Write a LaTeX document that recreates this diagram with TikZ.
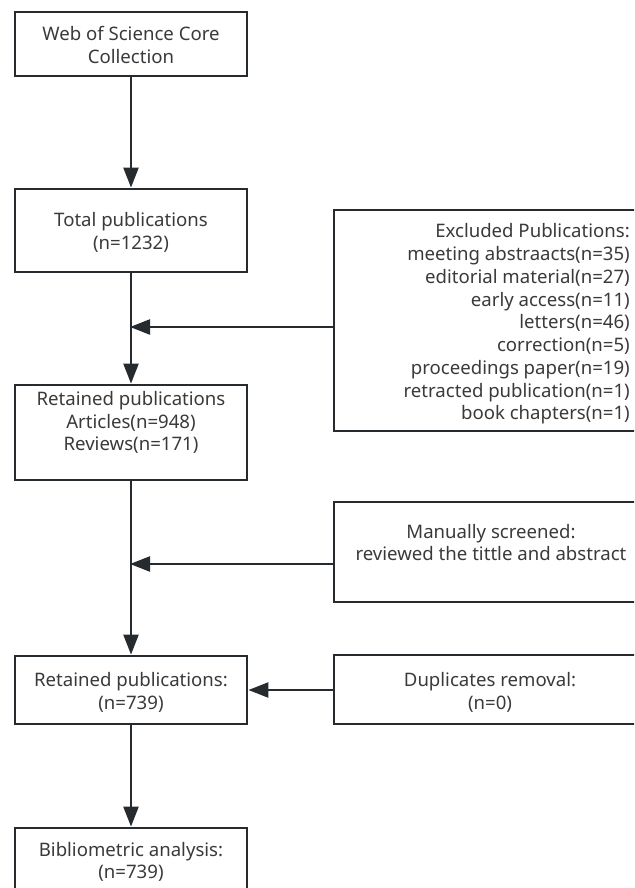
\documentclass[tikz,border=0pt]{standalone}
\usepackage{fontspec}
\setmainfont{Noto Sans}
\usetikzlibrary{arrows.meta}
\definecolor{edge}{HTML}{262B30}
\definecolor{ink}{HTML}{3A3A3A}
\tikzset{
  box/.style={draw=edge, line width=2.8pt, fill=white, inner sep=0pt},
  txt/.style={text=ink, font=\fontsize{18.6}{22.75}\selectfont, inner sep=0pt},
  arr/.style={draw=edge, line width=2.4pt, -{Triangle[length=20pt,width=15pt]}},
  ln/.style={draw=edge, line width=2.4pt}
}
\begin{document}
\begin{tikzpicture}[x=1pt,y=-1pt]
\useasboundingbox (0,0) rectangle (634,888);
\clip (0,0) rectangle (634,888);
% left column boxes
\node[box, minimum width=232pt, minimum height=64pt] (b1) at (131,44) {};
\node[txt, align=center] (t1) at (131,45) {Web of Science Core\\Collection};
\node[box, minimum width=232pt, minimum height=83pt] (b2) at (131,230.5) {};
\node[txt, align=center] (t2) at (131,232.5) {Total publications\\(n=1232)};
\node[box, minimum width=232pt, minimum height=95pt] (b3) at (131,432.5) {};
\node[txt, align=center] (t3) at (131,422.5) {Retained publications\\Articles(n=948)\\Reviews(n=171)};
\node[box, minimum width=232pt, minimum height=68pt] (b4) at (131,690) {};
\node[txt, align=center] (t4) at (131,692.5) {Retained publications:\\(n=739)};
\node[box, minimum width=232pt, minimum height=100pt] (b5) at (131,878) {};
\node[txt, align=center] (t5) at (131,862) {Bibliometric analysis:\\(n=739)};
% right column boxes
\node[box, minimum width=316pt, minimum height=221pt] (e1) at (492,320.5) {};
\node[txt, align=right, anchor=east] (te1) at (630,324) {Excluded Publications:\\meeting abstraacts(n=35)\\editorial material(n=27)\\early access(n=11)\\letters(n=46)\\correction(n=5)\\proceedings paper(n=19)\\retracted publication(n=1)\\book chapters(n=1)};
\node[box, minimum width=316pt, minimum height=100pt] (e2) at (492,552) {};
\node[txt, align=center] (te2) at (491,542.5) {Manually screened:\\reviewed the tittle and abstract};
\node[box, minimum width=316pt, minimum height=69pt] (e3) at (492,689.5) {};
\node[txt, align=center] (te3) at (490,692.5) {Duplicates removal:\\(n=0)};
% junction coordinates
\coordinate (j1) at (131,327);
\coordinate (j2) at (131,564);
% connectors
\draw[arr] (b1.south) -- (b2.north);
\draw[arr] (b2.south) -- (b3.north);
\draw[arr] (b3.south) -- (b4.north);
\draw[arr] (b4.south) -- (b5.north);
\draw[arr, shorten >=-1pt] (e1.west |- j1) -- (j1);
\draw[arr, shorten >=-1pt] (e2.west |- j2) -- (j2);
\draw[arr] (e3.west |- b4.east) -- (b4.east);
\end{tikzpicture}
\end{document}
